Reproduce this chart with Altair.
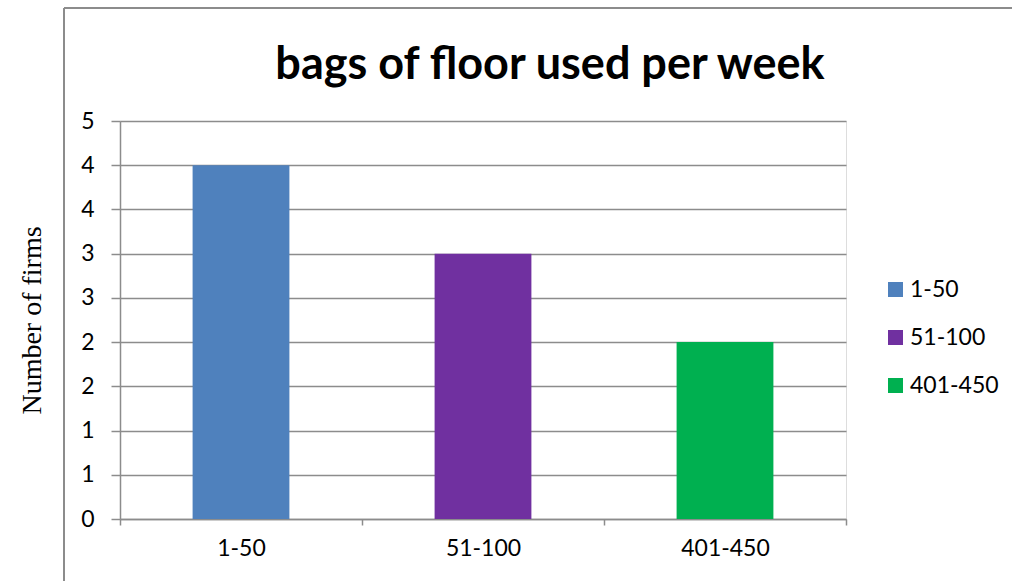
import altair as alt
import pandas as pd

# Weekly flour-bag usage bands and how many firms fall in each
bands = ["1-50", "51-100", "401-450"]
firms = [4, 3, 2]
colors = ["#4F81BD", "#7030A0", "#00B050"]
y_ticks = [0, 0.5, 1, 1.5, 2, 2.5, 3, 3.5, 4, 4.5]

df = pd.DataFrame({"band": bands, "firms": firms})

FONT = "Lato"
GRID = "#8c8c8c"

bars = alt.Chart(df).mark_bar(width=alt.RelativeBandSize(0.4)).encode(
    x=alt.X(
        "band:N",
        sort=bands,
        title=None,
        scale=alt.Scale(paddingInner=0, paddingOuter=0),
        axis=alt.Axis(
            tickBand="extent",
            labelAngle=0,
            labelFont=FONT,
            labelFontSize=23,
            labelColor="#000000",
            labelPadding=12,
            tickSize=6,
            tickColor=GRID,
            domainColor=GRID,
            tickWidth=1.5,
            domainWidth=1.5,
            grid=False,
        ),
    ),
    y=alt.Y(
        "firms:Q",
        scale=alt.Scale(domain=[0, 4.5], nice=False),
        title="Number of firms",
        axis=alt.Axis(
            values=y_ticks,
            labelExpr="ceil(datum.value)",
            labelFont=FONT,
            labelFontSize=23,
            labelColor="#000000",
            labelPadding=17,
            tickSize=9,
            tickColor=GRID,
            tickWidth=1.5,
            domainColor=GRID,
            domainWidth=1.5,
            grid=True,
            gridColor=GRID,
            gridWidth=1.5,
            titleFont="Liberation Serif",
            titleFontSize=28,
            titleFontWeight="normal",
            titleColor="#000000",
            titleX=-88,
            titleY=199,
            titleAngle=-90,
            titleAlign="center",
            titleBaseline="middle",
        ),
    ),
    color=alt.Color(
        "band:N",
        sort=bands,
        scale=alt.Scale(domain=bands, range=colors),
        legend=alt.Legend(
            title=None,
            orient="none",
            legendX=764,
            legendY=157,
            symbolType="square",
            symbolSize=225,
            symbolStrokeWidth=0,
            labelFont=FONT,
            labelFontSize=23,
            labelColor="#000000",
            labelOffset=3,
            rowPadding=24,
        ),
    ),
)

# Outer chart frame: left and top edges
frame_left = alt.Chart(df).mark_rule(color=GRID, strokeWidth=2).encode(
    x=alt.value(-56), y=alt.value(-113), y2=alt.value(470)
)
frame_top = alt.Chart(df).mark_rule(color=GRID, strokeWidth=2).encode(
    x=alt.value(-56), x2=alt.value(900), y=alt.value(-113)
)

chart = (
    alt.layer(frame_left, frame_top, bars)
    .properties(
        width=726,
        height=398,
        title=alt.TitleParams(
            "bags of floor used per week",
            font=FONT,
            fontSize=45,
            fontWeight="bold",
            color="#000000",
            anchor="middle",
            frame="group",
            dx=67,
            dy=113,
            offset=32,
        ),
        autosize=alt.AutoSizeParams(type="none"),
        padding={"left": 120, "top": 121, "right": 166, "bottom": 62},
    )
    .configure_view(stroke=None)
    .configure(background="#ffffff")
)

chart.save("out.html", embed_options={"renderer": "svg", "actions": False})
